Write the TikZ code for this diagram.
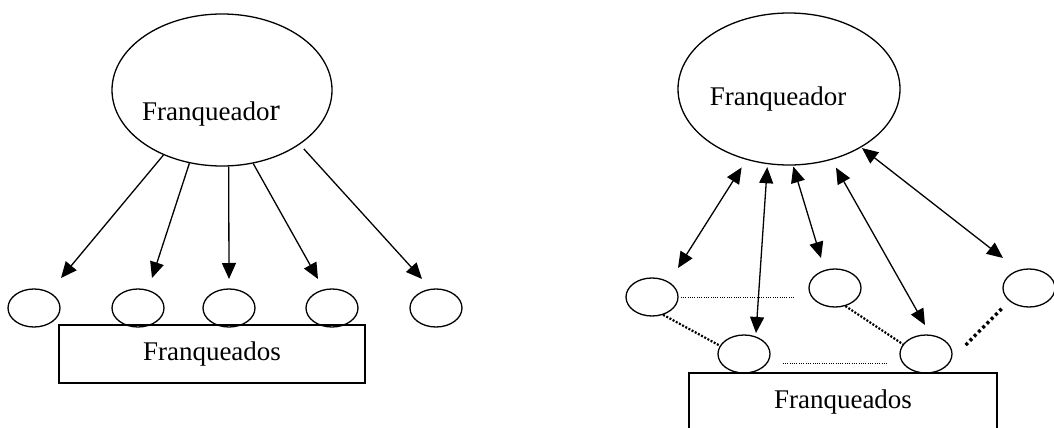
\documentclass[tikz,border=0pt]{standalone}
\usepackage{fontspec}
\setmainfont{Liberation Serif}
\usetikzlibrary{shapes.geometric,arrows.meta,calc}

\begin{document}
\begin{tikzpicture}[x=1pt,y=-1pt,
  bigell/.style={ellipse,draw,line width=1.3pt,inner sep=0pt,minimum width=220pt,minimum height=152pt},
  smallell/.style={ellipse,draw,line width=1.3pt,inner sep=0pt,minimum width=52pt,minimum height=38pt},
  groupbox/.style={rectangle,draw,line width=1.3pt,inner sep=0pt,minimum width=306pt,minimum height=58pt,font=\fontsize{27}{30}\selectfont},
  lab/.style={anchor=base,inner sep=0pt,font=\fontsize{27}{30}\selectfont},
  oneway/.style={line width=1.3pt,-{Triangle[length=16pt,width=14pt]}},
  twoway/.style={line width=1.3pt,{Triangle[length=16pt,width=14pt]}-{Triangle[length=16pt,width=14pt]}},
  finedots/.style={line width=0.9pt,dash pattern=on 1pt off 1.3pt},
  middots/.style={line width=2.2pt,dash pattern=on 2pt off 1.6pt},
  heavydots/.style={line width=3.4pt,dash pattern=on 3pt off 3pt},
]
\useasboundingbox (0,0) rectangle (1054,428);
\clip (0,0) rectangle (1054,428);

% ---------- left: one-way relation ----------
\node[bigell] (L) at (222,90) {};
\node[lab] (Ltxt) at (211,120) {Franqueado{\fontsize{31}{31}\selectfont r}};

\node[smallell] (l1) at (34,308) {};
\node[smallell] (l2) at (138,308) {};
\node[smallell] (l3) at (229,308) {};
\node[smallell] (l4) at (332,308) {};
\node[smallell] (l5) at (436,308) {};

\node[groupbox] (Lbox) at (212,354) {Franqueados};

\coordinate (t1) at (61,278);
\coordinate (t2) at (152,278);
\coordinate (t3) at (229,279);
\coordinate (t4) at (318,279);
\coordinate (t5) at (422,279);

\draw[oneway] (L.228.6) -- (t1);
\draw[oneway] (L.246.8) -- (t2);
\draw[oneway] (L.275.2) -- (t3);
\draw[oneway] (L.293.2) -- (t4);
\draw[oneway, shorten <=6pt] (L.325.8) -- (t5);

% ---------- right: two-way relation and network ----------
\node[bigell, minimum width=222pt] (R) at (789,89) {};
\node[lab] (Rtxt) at (778,105) {Franqueador};

\node[smallell] (A) at (652,297) {};
\node[smallell] (B) at (744,354) {};
\node[smallell] (C) at (835,288) {};
\node[smallell] (D) at (926,354) {};
\node[smallell] (E) at (1029,288) {};

\node[groupbox, minimum width=308pt] (Rbox) at (843,402) {Franqueados};

\coordinate (u1) at (678,268);
\coordinate (u2) at (756,333);
\coordinate (u3) at (821,258);
\coordinate (u4) at (925,325);
\coordinate (u5) at (1003,258);

\draw[twoway, shorten <=9pt] (R.239.5) -- (u1);
\draw[twoway, shorten <=3pt] (R.254.9) -- (u2);
\draw[twoway, shorten <=1pt] (R.273) -- (u3);
\draw[twoway, shorten <=9pt] (R.301.1) -- (u4);
\draw[twoway, shorten <=1pt] (R.321.9) -- (u5);

\draw[finedots] ($(A.east)+(2,0)$) -- ($(A.east -| C.west)+(-14,0)$);
\draw[finedots] ($(B.east)+(12,9)$) -- ($(D.west)+(-12,9)$);
\draw[middots] (A.302) -- (B.161);
\draw[middots] (C.300) -- (D.157);
\draw[heavydots] ($(D.east)+(13,-9)$) -- ($(E.west)+(0,20)$);
\end{tikzpicture}
\end{document}
